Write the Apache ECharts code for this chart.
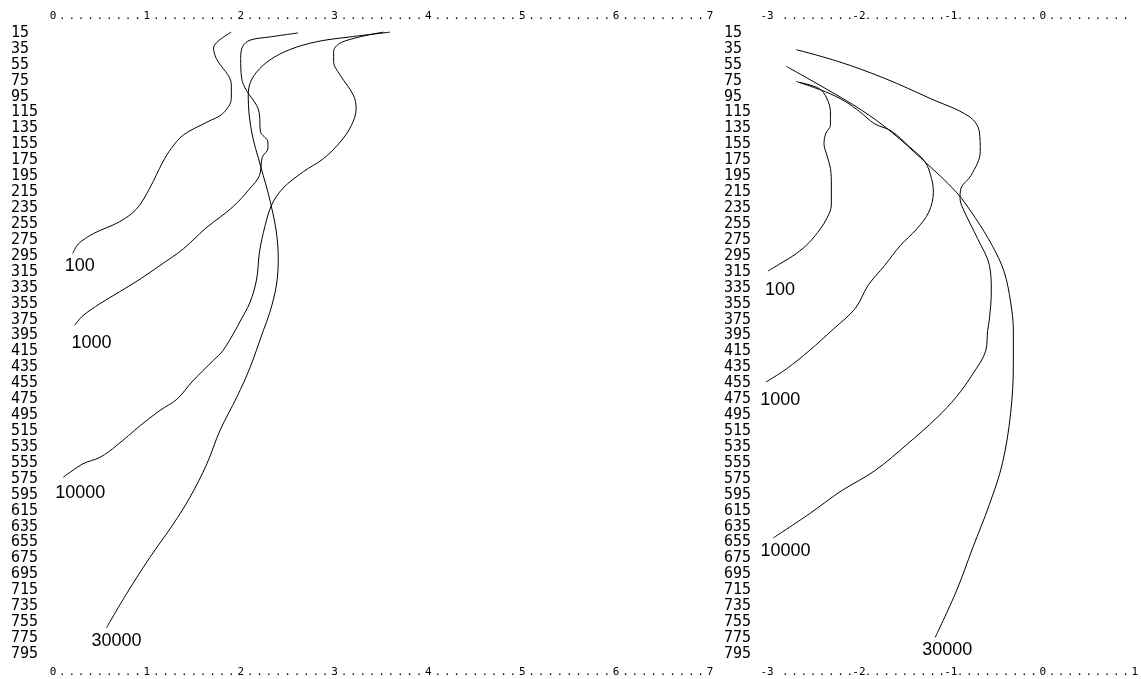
<!DOCTYPE html>
<html>
<head>
<meta charset="utf-8">
<script src="https://cdn.jsdelivr.net/npm/echarts@6/dist/echarts.min.js"></script>
<style>
  html, body { margin: 0; padding: 0; background: #fff; }
  #chart { width: 1141px; height: 679px; }
</style>
</head>
<body>
<div id="chart"></div>
<script>
// Depth tick labels, shared by both panels (depth grows downward)
const depthTicks = [15, 35, 55, 75, 95, 115, 135, 155, 175, 195, 215, 235, 255, 275, 295,
  315, 335, 355, 375, 395, 415, 435, 455, 475, 495, 515, 535, 555, 575, 595,
  615, 635, 655, 675, 695, 715, 735, 755, 775, 795];

// Major x tick labels of the two panels
const leftXMajor = [0, 1, 2, 3, 4, 5, 6, 7];
const rightXMajor = [-3, -2, -1, 0, 1];

// Left panel profiles (x value, depth)
const left100X = [1.90, 1.71, 1.74, 1.90, 1.90, 1.81, 1.64, 1.39, 1.26, 1.17, 1.03, 0.89, 0.71, 0.43, 0.27, 0.21];
const left100Depth = [14, 34, 47, 80, 97, 116, 127, 143, 160, 177, 210, 236, 252, 267, 280, 292];

const left1000X = [2.61, 2.31, 2.10, 2.02, 2.00, 2.01, 2.06, 2.17, 2.20, 2.21, 2.29, 2.29, 2.23, 2.20, 2.10, 1.92, 1.62, 1.39, 1.14, 0.93, 0.71, 0.50, 0.32, 0.23];
const left1000Depth = [15, 20, 24, 32, 47, 72, 87, 106, 118, 139, 152, 160, 171, 194, 210, 233, 261, 286, 307, 324, 340, 355, 370, 382];

const left10000X = [3.52, 3.09, 2.99, 2.99, 3.06, 3.20, 3.23, 3.18, 3.06, 2.88, 2.67, 2.45, 2.33, 2.26, 2.20, 2.17, 2.10, 1.99, 1.94, 1.81, 1.71, 1.49, 1.32, 1.14, 0.93, 0.68, 0.50, 0.32, 0.11];
const left10000Depth = [14, 26, 38, 51, 68, 93, 110, 131, 152, 173, 189, 210, 231, 257, 290, 324, 353, 378, 389, 414, 426, 452, 475, 489, 508, 533, 548, 556, 573];

const left30000X = [3.59, 3.16, 2.81, 2.52, 2.31, 2.17, 2.10, 2.08, 2.09, 2.13, 2.19, 2.24, 2.29, 2.34, 2.38, 2.40, 2.38, 2.31, 2.24, 2.10, 1.96, 1.78, 1.64, 1.46, 1.28, 1.03, 0.78, 0.57];
const left30000Depth = [14, 20, 26, 36, 49, 64, 78, 93, 118, 147, 173, 194, 215, 240, 265, 298, 332, 366, 389, 435, 472, 514, 556, 598, 632, 674, 720, 762];

// Right panel profiles (x value, depth)
const right100X = [-2.65, -2.43, -2.35, -2.31, -2.31, -2.36, -2.38, -2.35, -2.31, -2.30, -2.30, -2.35, -2.42, -2.54, -2.68, -2.86, -2.99];
const right100Depth = [77, 85, 97, 114, 131, 141, 154, 168, 185, 206, 231, 248, 261, 278, 292, 305, 314];

const right1000X = [-2.68, -2.36, -2.15, -1.99, -1.83, -1.65, -1.45, -1.28, -1.21, -1.19, -1.24, -1.37, -1.55, -1.72, -1.90, -2.04, -2.27, -2.54, -2.79, -3.02];
const right1000Depth = [76, 89, 101, 114, 129, 138, 158, 177, 198, 215, 240, 261, 282, 307, 332, 361, 386, 414, 437, 454];

const right10000X = [-2.68, -2.22, -1.72, -1.23, -0.80, -0.69, -0.68, -0.78, -0.89, -0.90, -0.85, -0.71, -0.58, -0.56, -0.58, -0.60, -0.62, -0.76, -0.94, -1.15, -1.47, -1.83, -2.19, -2.54, -2.93];
const right10000Depth = [36, 51, 72, 97, 120, 139, 164, 194, 210, 223, 240, 273, 307, 340, 374, 389, 414, 443, 472, 498, 531, 565, 590, 619, 649];

const right30000X = [-2.79, -2.36, -1.97, -1.65, -1.30, -0.94, -0.73, -0.55, -0.42, -0.35, -0.32, -0.32, -0.35, -0.44, -0.58, -0.76, -0.94, -1.17];
const right30000Depth = [57, 85, 112, 139, 175, 215, 248, 282, 315, 353, 389, 430, 493, 556, 607, 661, 716, 774];

// ---- helpers ----
const pairs = (xs, ds) => xs.map((x, i) => [x, ds[i]]);

// Fill each gap between major ticks with nine dotted minor positions
function dottedTicks(major) {
  const out = [];
  for (let i = 0; i < major.length; i++) {
    out.push(major[i]);
    if (i < major.length - 1) {
      for (let k = 1; k <= 9; k++) out.push(Math.round((major[i] + k / 10) * 10) / 10);
    }
  }
  return out;
}
const tickText = v => (Math.abs(v - Math.round(v)) < 1e-9 ? String(Math.round(v)) : '.');

const MONO = 'DejaVu Sans Mono';
const LABEL_FONT = 'Liberation Sans';

function xAxisCfg(gridIndex, min, max, position, values) {
  return {
    type: 'value', gridIndex, min, max, position,
    axisLine: { show: false }, axisTick: { show: false }, splitLine: { show: false },
    axisLabel: {
      customValues: values, formatter: tickText, color: '#000',
      showMinLabel: true, showMaxLabel: true, hideOverlap: false,
      fontFamily: MONO, fontSize: 11, margin: position === 'top' ? 3 : 5
    }
  };
}

function yAxisCfg(gridIndex, margin) {
  return {
    type: 'value', gridIndex, min: 5, max: 805, inverse: true,
    axisLine: { show: false }, axisTick: { show: false }, splitLine: { show: false },
    axisLabel: {
      customValues: depthTicks, align: 'left', margin, color: '#000',
      showMinLabel: true, showMaxLabel: true,
      fontFamily: MONO, fontSize: 15
    }
  };
}

function profile(name, xs, ds, xAxisIndex, yAxisIndex, offset) {
  return {
    name, type: 'line', xAxisIndex, yAxisIndex,
    data: pairs(xs, ds),
    symbol: 'none', showSymbol: false, smooth: 0.35, silent: true,
    lineStyle: { color: '#000', width: 1 },
    endLabel: {
      show: true, formatter: '{a}', distance: 0, offset,
      color: '#000', fontFamily: LABEL_FONT, fontSize: 18
    }
  };
}

const rightTop = dottedTicks(rightXMajor).filter(v => v < 1);

const chart = echarts.init(document.getElementById('chart'), null, { renderer: 'canvas' });
chart.setOption({
  animation: false,
  backgroundColor: '#fff',
  grid: [
    { left: 53, top: 25, width: 657, height: 637 },
    { left: 767, top: 25, width: 372, height: 637 }
  ],
  xAxis: [
    xAxisCfg(0, 0, 7, 'bottom', dottedTicks(leftXMajor)),
    xAxisCfg(0, 0, 7, 'top', dottedTicks(leftXMajor)),
    xAxisCfg(1, -3, 1, 'bottom', dottedTicks(rightXMajor)),
    xAxisCfg(1, -3, 1, 'top', rightTop)
  ],
  yAxis: [yAxisCfg(0, 42), yAxisCfg(1, 43)],
  series: [
    profile('100', left100X, left100Depth, 0, 0, [-8, 13]),
    profile('1000', left1000X, left1000Depth, 0, 0, [-3, 18]),
    profile('10000', left10000X, left10000Depth, 0, 0, [-8, 16]),
    profile('30000', left30000X, left30000Depth, 0, 0, [-15, 13]),
    profile('100', right100X, right100Depth, 2, 1, [-3, 19]),
    profile('1000', right1000X, right1000Depth, 2, 1, [-5, 18]),
    profile('10000', right10000X, right10000Depth, 2, 1, [-13, 13]),
    profile('30000', right30000X, right30000Depth, 2, 1, [-13, 13])
  ]
});
</script>
</body>
</html>
